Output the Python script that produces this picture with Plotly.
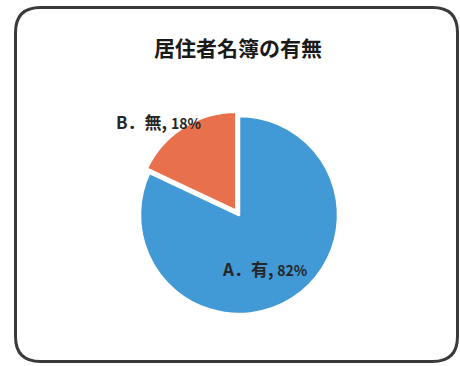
import plotly.graph_objects as go

# Survey result: whether a resident register exists
letters = ["A", "B"]
labels = ["有", "無"]
values = [82, 18]
colors = ["#4199D6", "#E8704C"]
title_text = "居住者名簿の有無"

W, H = 460, 366
FONT = "Noto Sans CJK JP"


def px(x):
    return x / W


def py(y):
    return 1 - y / H


fig = go.Figure()

fig.add_trace(go.Pie(
    values=values,
    labels=[f"{a}．{b}" for a, b in zip(letters, labels)],
    sort=False,
    direction="clockwise",
    rotation=0,
    pull=[0, 0.05],
    marker=dict(colors=colors, line=dict(color="white", width=2.5)),
    textinfo="none",
    hoverinfo="label+percent",
    showlegend=False,
    domain=dict(x=[px(135), px(343)], y=[py(319), py(111)]),
))

# data labels, one per slice
label_pos = [(265, 268), (158, 122)]
for i, (lx, ly) in enumerate(label_pos):
    fig.add_annotation(
        x=px(lx), y=py(ly), xref="paper", yref="paper",
        text=f"<b>{letters[i]}．{labels[i]}, <span style='font-size:14px'>{values[i]}%</span></b>",
        showarrow=False,
        font=dict(family=FONT, size=17, color="#262626"),
        xanchor="center", yanchor="middle",
    )

fig.add_annotation(
    x=px(238), y=py(47), xref="paper", yref="paper",
    text=f"<b>{title_text}</b>", showarrow=False,
    font=dict(family=FONT, size=21, color="#1a1a1a"),
    xanchor="center", yanchor="middle",
)

# rounded frame around the chart
L, R, T, B, r = 15.5, 457.5, 7.5, 361.5, 25
path = (
    f"M {px(L + r)} {py(T)} L {px(R - r)} {py(T)} "
    f"Q {px(R)} {py(T)} {px(R)} {py(T + r)} "
    f"L {px(R)} {py(B - r)} "
    f"Q {px(R)} {py(B)} {px(R - r)} {py(B)} "
    f"L {px(L + r)} {py(B)} "
    f"Q {px(L)} {py(B)} {px(L)} {py(B - r)} "
    f"L {px(L)} {py(T + r)} "
    f"Q {px(L)} {py(T)} {px(L + r)} {py(T)} Z"
)
fig.add_shape(type="path", path=path, xref="paper", yref="paper",
              line=dict(color="#3a3a3a", width=3))

fig.update_layout(
    width=W, height=H,
    margin=dict(l=0, r=0, t=0, b=0),
    paper_bgcolor="white", plot_bgcolor="white",
    font=dict(family=FONT),
)

fig.write_html("out.html")
